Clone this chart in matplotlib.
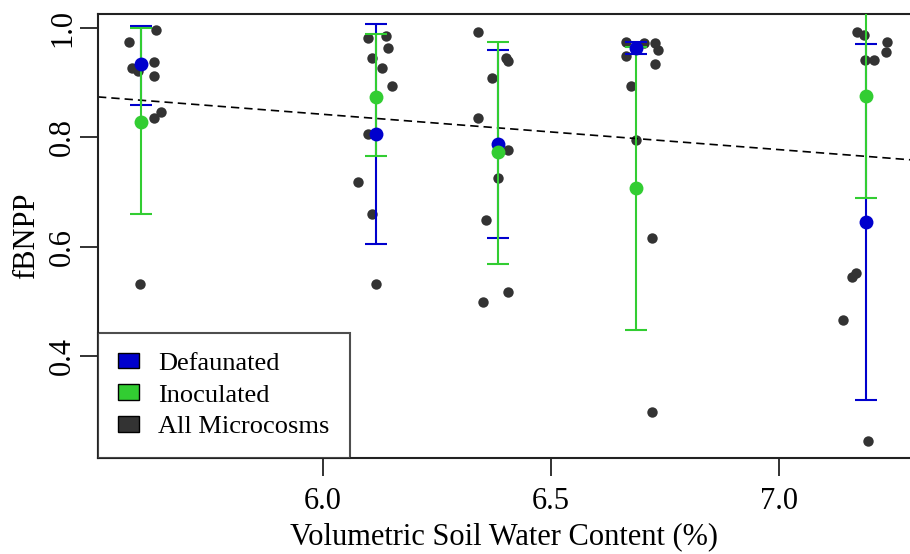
import matplotlib
matplotlib.use("Agg")
import matplotlib.pyplot as plt
from matplotlib.patches import Patch
import numpy as np

plt.rcParams['font.family'] = ['Liberation Serif', 'DejaVu Serif']

# Group positions (volumetric soil water content, %)
group_x = [5.602, 6.116, 6.383, 6.686, 7.190]

# Defaunated means and error bar limits
def_mean = [0.935, 0.806, 0.788, 0.964, 0.645]
def_low = [0.860, 0.604, 0.615, 0.953, 0.320]
def_high = [1.004, 1.007, 0.960, 0.974, 0.971]

# Inoculated means and error bar limits
ino_mean = [0.828, 0.874, 0.773, 0.707, 0.875]
ino_low = [0.660, 0.766, 0.568, 0.448, 0.689]
ino_high = [1.000, 0.989, 0.974, 0.965, 1.060]

# Individual microcosms (jittered x, fBNPP)
pts_x = [5.634, 5.576, 5.629, 5.582, 5.594, 5.629, 5.629, 5.646, 5.598,
         6.098, 6.138, 6.142, 6.107, 6.129, 6.151, 6.098, 6.076, 6.107, 6.116,
         6.339, 6.401, 6.406, 6.370, 6.339, 6.406, 6.383, 6.357, 6.405, 6.352,
         6.664, 6.703, 6.727, 6.734, 6.664, 6.727, 6.675, 6.686, 6.721, 6.721,
         7.170, 7.186, 7.237, 7.234, 7.189, 7.208, 7.159, 7.169, 7.141, 7.194]
pts_y = [0.996, 0.974, 0.938, 0.926, 0.922, 0.912, 0.835, 0.846, 0.531,
         0.982, 0.986, 0.963, 0.945, 0.926, 0.894, 0.806, 0.718, 0.659, 0.531,
         0.993, 0.946, 0.940, 0.909, 0.835, 0.776, 0.725, 0.649, 0.517, 0.498,
         0.975, 0.973, 0.972, 0.960, 0.949, 0.934, 0.894, 0.795, 0.615, 0.297,
         0.993, 0.987, 0.975, 0.957, 0.941, 0.941, 0.544, 0.551, 0.466, 0.245]

# Regression line fBNPP = intercept + slope * VWC
fit_intercept = 1.2297
fit_slope = -0.0646

x_ticks = [6.0, 6.5, 7.0]
x_tick_labels = ["6.0", "6.5", "7.0"]
y_ticks = [0.4, 0.6, 0.8, 1.0]
y_tick_labels = ["0.4", "0.6", "0.8", "1.0"]
legend_labels = ["Defaunated", "Inoculated", "All Microcosms"]

c_def = "#0000CD"
c_ino = "#32CD32"
c_pts = "#333333"

fig = plt.figure(figsize=(9.1, 5.54), dpi=100)
ax = fig.add_axes([98/910, 1-458/554, 1-98/910, (458-14)/554])
xlim = (5.507, 7.287)
ax.set_xlim(*xlim)
ax.set_ylim(0.2134, 1.0256)

ax.plot(pts_x, pts_y, 'o', color=c_pts, ms=7.5, mec='none', zorder=2)

xl = np.array(xlim)
ax.plot(xl, fit_intercept + fit_slope * xl, color='black', lw=1.2,
        dashes=(5, 3), zorder=2.5)

for m, lo, hi, c, z in [(def_mean, def_low, def_high, c_def, 3),
                         (ino_mean, ino_low, ino_high, c_ino, 4)]:
    m = np.array(m)
    yerr = np.vstack([m - np.array(lo), np.array(hi) - m])
    ax.errorbar(group_x, m, yerr=yerr, fmt='none', ecolor=c, elinewidth=1.5,
                capsize=8, capthick=1.5, zorder=z)
ax.plot(group_x, def_mean, 'o', color=c_def, ms=10, mec='none', zorder=5)
ax.plot(group_x, ino_mean, 'o', color=c_ino, ms=10, mec='none', zorder=6)

ax.set_xticks(x_ticks)
ax.set_xticklabels(x_tick_labels)
ax.set_yticks(y_ticks)
ax.set_yticklabels(y_tick_labels, rotation=90, va='center')
ax.tick_params(axis='both', labelsize=22, length=13, width=1.3, color='#222222')
ax.tick_params(axis='x', pad=8)
ax.tick_params(axis='y', pad=2)
for s in ['left', 'bottom', 'top']:
    ax.spines[s].set_linewidth(1.5)
    ax.spines[s].set_color('#222222')
ax.spines['right'].set_visible(False)

ax.set_xlabel("Volumetric Soil Water Content (%)", fontsize=22, labelpad=4)
ax.set_ylabel("fBNPP", fontsize=22, labelpad=5)

handles = [Patch(facecolor=c, edgecolor='black', lw=1) for c in [c_def, c_ino, c_pts]]
leg = ax.legend(handles, legend_labels, loc='lower left', fontsize=19,
                frameon=True, fancybox=False, borderaxespad=0,
                handlelength=0.8, handleheight=0.53, handletextpad=0.74,
                labelspacing=0.36, borderpad=0.75)
leg.get_frame().set_edgecolor('#222222')
leg.get_frame().set_linewidth(1.5)
leg.set_zorder(10)

fig.savefig("out.png", dpi=100)
